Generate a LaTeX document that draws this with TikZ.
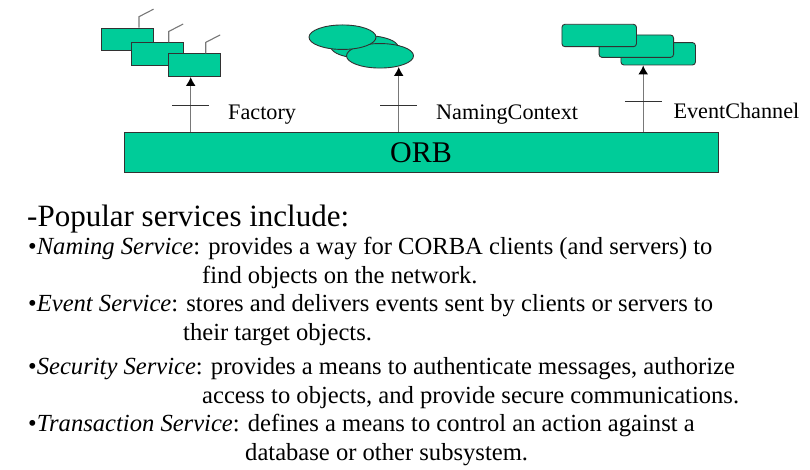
\documentclass[tikz,border=0pt]{standalone}
\usepackage{fontspec}
\setmainfont{Liberation Serif}
\usepackage{tikz}
\usetikzlibrary{arrows.meta,positioning,shapes.geometric}
\definecolor{orbgreen}{RGB}{0,204,153}
\definecolor{edgegray}{RGB}{50,50,50}
\definecolor{shaftgray}{RGB}{120,120,120}

\begin{document}
\begin{tikzpicture}[x=1pt,y=-1pt,>=Latex,
obj box/.style={draw=edgegray,fill=orbgreen,line width=0.9pt,minimum width=52pt,minimum height=22.7pt,inner sep=0pt},
chan box/.style={draw=edgegray,fill=orbgreen,line width=0.9pt,rounded corners=3pt,minimum width=74.5pt,minimum height=22.4pt,inner sep=0pt},
ctx ell/.style={draw=edgegray,fill=orbgreen,line width=0.9pt,ellipse,minimum width=67pt,minimum height=24.5pt,inner sep=0pt},
orb box/.style={draw=edgegray,fill=orbgreen,line width=0.9pt,minimum width=594pt,minimum height=40.4pt,inner sep=0pt,font=\fontsize{30}{34}\selectfont},
link/.style={draw=shaftgray,line width=1.4pt,-{Latex[length=9pt,width=10pt,color=black]}},
antenna/.style={draw=shaftgray,line width=1.1pt},
tick/.style={draw=edgegray,line width=1pt},
iface label/.style={anchor=base west,inner sep=0pt,font=\fontsize{22.2}{25}\selectfont},
item/.style={anchor=base west,inner sep=0pt,font=\fontsize{24.6}{28}\selectfont},
head/.style={anchor=base west,inner sep=0pt,font=\fontsize{31}{35}\selectfont}]
\useasboundingbox (0,0) rectangle (810,470);
% ORB bus
\node[orb box] (orb) at (421,152.5) {ORB};
% factory objects
\node[obj box] (fac1) at (127.5,39.5) {};
\node[obj box] (fac2) at (157.2,54.3) {};
\node[obj box] (fac3) at (194.2,65.2) {};
\foreach \b in {fac1,fac2,fac3}
  \draw[antenna] ([xshift=11.5pt]\b.north) -- ++(0,-11) -- ++(14.5,-7.5);
% naming contexts
\node[ctx ell,minimum height=23pt] (nc2) at (364.5,47) {};
\node[ctx ell] (nc3) at (380,55.8) {};
\node[ctx ell] (nc1) at (342.5,37.2) {};
% event channels
\node[chan box] (ev3) at (658.2,53.8) {};
\node[chan box] (ev2) at (636.3,46.2) {};
\node[chan box] (ev1) at (599.2,35.5) {};
% interfaces
\coordinate (facIn) at ([xshift=-3.5pt]fac3.south);
\coordinate (ncIn) at (398.7,67);
\coordinate (evIn) at ([xshift=-15pt]ev3.south);
\draw[link] (orb.north -| facIn) -- (facIn);
\draw[link] (orb.north -| ncIn) -- (ncIn);
\draw[link] (orb.north -| evIn) -- (evIn);
\draw[tick] (190.7,106) ++(-18.5,0) -- ++(37,0);
\draw[tick] (398.7,106) ++(-18.5,0) -- ++(37,0);
\draw[tick] (643.3,102) ++(-18.5,0) -- ++(37,0);
\node[iface label] (facLbl) at (228,119.3) {Factory};
\node[iface label] (ncLbl) at (436,119.3) {NamingContext};
\node[iface label] (evLbl) at (673.3,118.5) {EventChannel};
% service list
\node[head] (intro) at (27,226) {-Popular services include:};
\node[item] (naming) at (28,254) {\textbullet\textit{Naming Service}: provides a way for CORBA clients (and servers) to};
\node[item] (naming2) at (202,283) {find objects on the network.};
\node[item] (event) at (28,311.5) {\textbullet\textit{Event Service}: stores and delivers events sent by clients or servers to};
\node[item] (event2) at (183,340) {their target objects.};
\node[item] (security) at (28,374) {\textbullet\textit{Security Service}: provides a means to authenticate messages, authorize};
\node[item] (security2) at (202,403) {access to objects, and provide secure communications.};
\node[item] (trans) at (28,431.5) {\textbullet\textit{Transaction Service}: defines a means to control an action against a};
\node[item] (trans2) at (245,460.5) {database or other subsystem.};
\end{tikzpicture}
\end{document}
